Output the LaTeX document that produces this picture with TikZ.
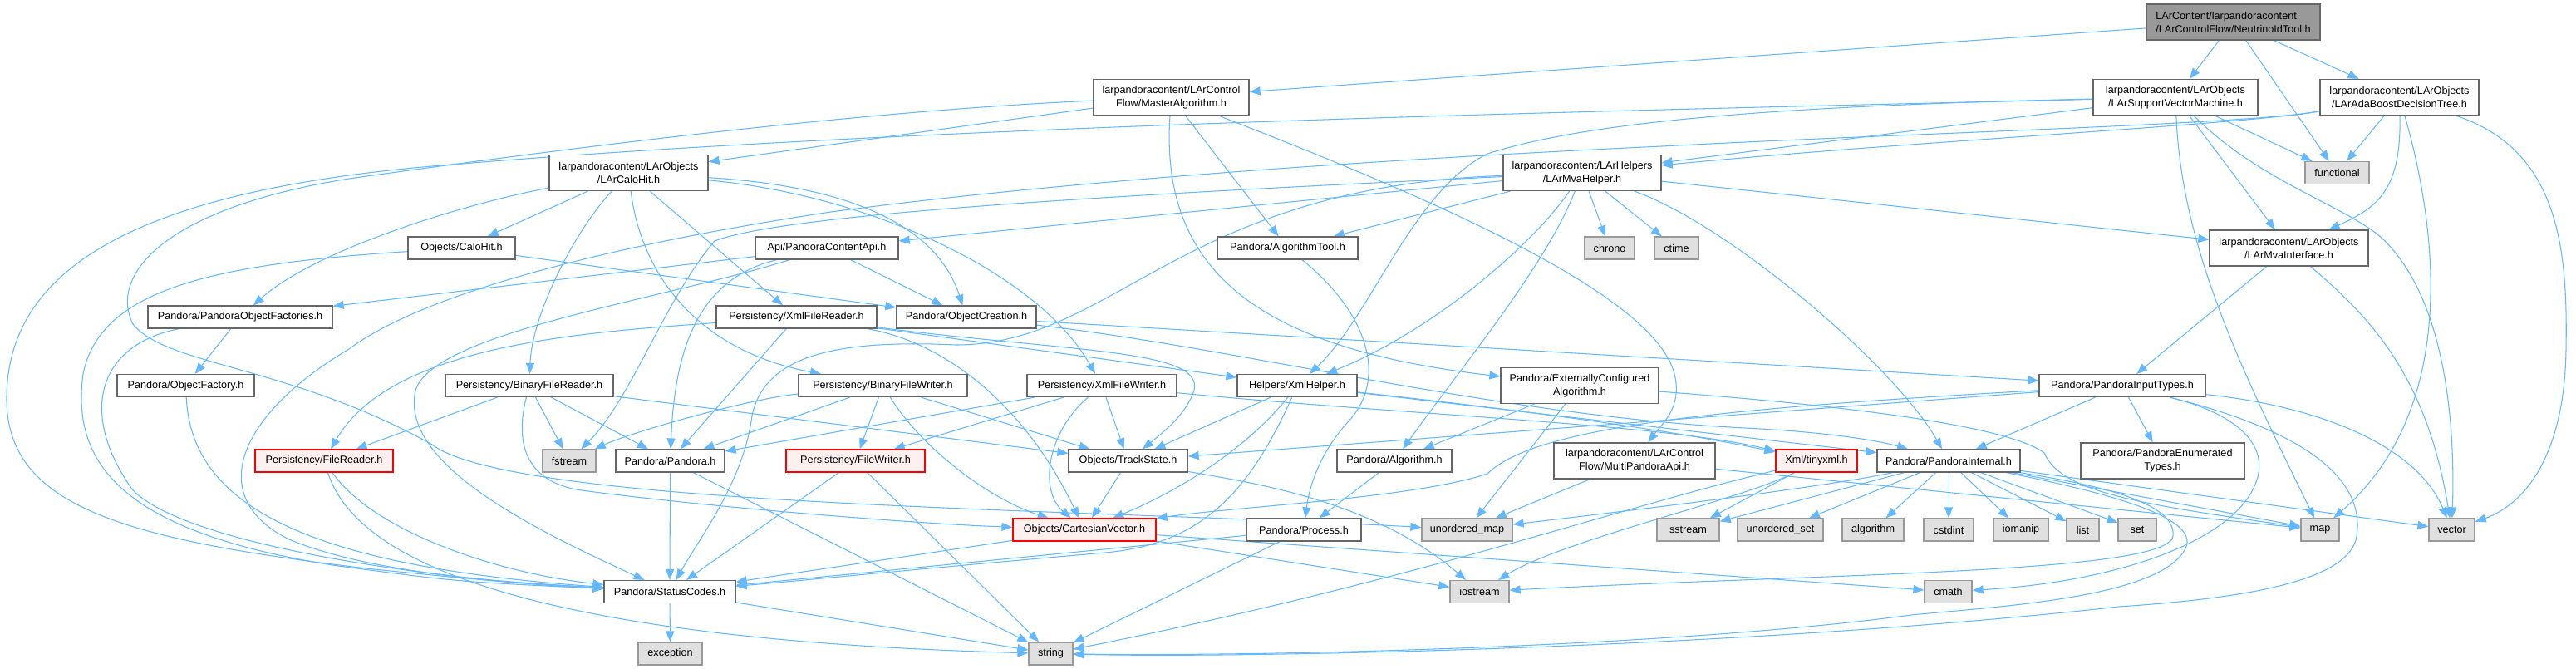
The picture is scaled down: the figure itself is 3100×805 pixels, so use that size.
\documentclass[tikz,border=0pt]{standalone}
\usepackage{fontspec}
\setmainfont{Liberation Sans}
\usetikzlibrary{arrows.meta,backgrounds}
\definecolor{wire}{HTML}{63B8FF}
\definecolor{frame}{HTML}{666666}
\definecolor{sysframe}{HTML}{999999}
\definecolor{sysfill}{HTML}{E0E0E0}
\definecolor{badframe}{HTML}{FF0000}
\definecolor{badfill}{HTML}{FFF0F0}
\definecolor{rootfill}{HTML}{999999}

\begin{document}
\begin{tikzpicture}[
  x=0.2mm, y=-0.2mm,
  font=\fontsize{7.2}{9.1}\selectfont,
  >={Triangle[length=2.6mm,width=2mm]},
  hdr/.style={draw=frame, fill=white, line width=0.7pt, inner sep=0pt,
              minimum height=5.4mm, align=center},
  tall/.style={minimum height=8.6mm},
  syshdr/.style={hdr, draw=sysframe, fill=sysfill},
  badhdr/.style={hdr, draw=badframe, fill=badfill},
  roothdr/.style={hdr, tall, fill=rootfill, align=left},
  inc/.style={->, draw=wire, line width=0.6pt},
]
\useasboundingbox (0,0) rectangle (3100,805);

\node[roothdr, minimum width=41.8mm] (root) at (2687.5,26.5)
  {LArContent/larpandoracontent\\/LArControlFlow/NeutrinoIdTool.h};

\node[hdr, tall, minimum width=37.4mm] (master) at (1409.5,117)
  {larpandoracontent/LArControl\\Flow/MasterAlgorithm.h};
\node[hdr, tall, minimum width=39.6mm] (svm) at (2618,117)
  {larpandoracontent/LArObjects\\/LArSupportVectorMachine.h};
\node[hdr, tall, minimum width=38.2mm] (ada) at (2887.5,117)
  {larpandoracontent/LArObjects\\/LArAdaBoostDecisionTree.h};

\node[hdr, tall, minimum width=38.2mm] (calohitlar) at (756.5,208)
  {larpandoracontent/LArObjects\\/LArCaloHit.h};
\node[hdr, tall, minimum width=38mm] (mvahelper) at (1904,208)
  {larpandoracontent/LArHelpers\\/LArMvaHelper.h};
\node[syshdr, minimum width=15.4mm] (functional) at (2812.5,208) {functional};

\node[hdr, minimum width=25.8mm] (calohit) at (555.5,298.5) {Objects/CaloHit.h};
\node[hdr, minimum width=34.4mm] (contentapi) at (995,298.5) {Api/PandoraContentApi.h};
\node[hdr, minimum width=33.8mm] (algtool) at (1549.5,298.5) {Pandora/AlgorithmTool.h};
\node[syshdr, minimum width=12mm] (chrono) at (1937,298.5) {chrono};
\node[syshdr, minimum width=10.6mm] (ctime) at (2017.5,298.5) {ctime};
\node[hdr, tall, minimum width=38.2mm] (mvaiface) at (2754.5,298.5)
  {larpandoracontent/LArObjects\\/LArMvaInterface.h};

\node[hdr, minimum width=44.4mm] (objfactories) at (289,381.5) {Pandora/PandoraObjectFactories.h};
\node[hdr, minimum width=38.6mm] (xmlreader) at (958.5,381.5) {Persistency/XmlFileReader.h};
\node[hdr, minimum width=33.6mm] (objcreation) at (1163,381.5) {Pandora/ObjectCreation.h};

\node[hdr, minimum width=33mm] (objfactory) at (223.5,464) {Pandora/ObjectFactory.h};
\node[hdr, minimum width=40.4mm] (binreader) at (637,464) {Persistency/BinaryFileReader.h};
\node[hdr, minimum width=40.6mm] (binwriter) at (1062.5,464) {Persistency/BinaryFileWriter.h};
\node[hdr, minimum width=36mm] (xmlwriter) at (1326,464) {Persistency/XmlFileWriter.h};
\node[hdr, minimum width=28.8mm] (xmlhelper) at (1561,464) {Helpers/XmlHelper.h};
\node[hdr, tall, minimum width=38mm] (extalg) at (1901,464)
  {Pandora/ExternallyConfigured\\Algorithm.h};
\node[hdr, minimum width=40mm] (inputtypes) at (2554,464) {Pandora/PandoraInputTypes.h};

\node[badhdr, minimum width=33.2mm] (filereader) at (390,554.5) {Persistency/FileReader.h};
\node[syshdr, minimum width=12.8mm] (fstream) at (685,554.5) {fstream};
\node[hdr, minimum width=26.2mm] (pandora) at (806.5,554.5) {Pandora/Pandora.h};
\node[badhdr, minimum width=33.4mm] (filewriter) at (1029.5,554.5) {Persistency/FileWriter.h};
\node[hdr, minimum width=28.6mm] (trackstate) at (1357.5,554.5) {Objects/TrackState.h};
\node[hdr, minimum width=27.6mm] (algorithm) at (1678,554.5) {Pandora/Algorithm.h};
\node[hdr, tall, minimum width=38.8mm] (multiapi) at (1967,554.5)
  {larpandoracontent/LArControl\\Flow/MultiPandoraApi.h};
\node[badhdr, minimum width=19.6mm] (tinyxml) at (2186,554.5) {Xml/tinyxml.h};
\node[hdr, minimum width=34.4mm] (internal) at (2345,554.5) {Pandora/PandoraInternal.h};
\node[hdr, tall, minimum width=39.4mm] (enumtypes) at (2602.5,554.5)
  {Pandora/PandoraEnumerated\\Types.h};

\node[badhdr, minimum width=34.4mm] (cartesian) at (1305,637.5) {Objects/CartesianVector.h};
\node[hdr, minimum width=27.6mm] (process) at (1569,637.5) {Pandora/Process.h};
\node[syshdr, minimum width=21.8mm] (umap) at (1765.5,637.5) {unordered\_map};
\node[syshdr, minimum width=15mm] (sstream) at (2031.5,637.5) {sstream};
\node[syshdr, minimum width=20.6mm] (uset) at (2142.5,637.5) {unordered\_set};
\node[syshdr, minimum width=14.8mm] (algorithmstd) at (2254,637.5) {algorithm};
\node[syshdr, minimum width=12mm] (cstdint) at (2345,637.5) {cstdint};
\node[syshdr, minimum width=13.2mm] (iomanip) at (2432,637.5) {iomanip};
\node[syshdr, minimum width=7.8mm] (list) at (2506.5,637.5) {list};
\node[syshdr, minimum width=9.2mm] (set) at (2572,637.5) {set};
\node[syshdr, minimum width=9.2mm] (map) at (2792,637.5) {map};
\node[syshdr, minimum width=11mm] (vector) at (2950.5,637.5) {vector};

\node[hdr, minimum width=31.6mm] (status) at (806,712) {Pandora/StatusCodes.h};
\node[syshdr, minimum width=14.2mm] (iostream) at (1780.5,712) {iostream};
\node[syshdr, minimum width=11.4mm] (cmath) at (2344.5,712) {cmath};

\node[syshdr, minimum width=15.4mm] (exception) at (806.5,786.5) {exception};
\node[syshdr, minimum width=10.6mm] (string) at (1264.5,786.5) {string};

\begin{scope}[on background layer]
\fill[white] (0,0) rectangle (3100,805);

\draw[inc] (root) -- (master);
\draw[inc] (root) -- (svm);
\draw[inc] (root) -- (functional);
\draw[inc] (root) -- (ada);

\draw[inc] (master) -- (calohitlar);
\draw[inc] (master) -- (algtool);
\draw[inc] (master) .. controls (1395,330) and (1520,420) .. (extalg);
\draw[inc] (master) .. controls (1700,230) and (1990,350) .. (2015,450)
  .. controls (2025,490) and (2000,510) .. (multiapi);
\draw[inc] (master) .. controls (1000,135) and (600,190) .. (420,215)
  .. controls (200,250) and (130,330) .. (160,390)
  .. controls (200,440) and (350,440) .. (520,535)
  .. controls (620,610) and (1300,612) .. (umap);

\draw[inc] (svm) .. controls (2000,132) and (1100,150) .. (520,200)
  .. controls (150,232) and (8,330) .. (8,480)
  .. controls (8,610) and (150,650) .. (450,685)
  .. controls (600,700) .. (status);
\draw[inc] (svm) .. controls (2100,128) and (1900,150) .. (1790,185)
  .. controls (1700,230) and (1650,380) .. (xmlhelper);
\draw[inc] (svm) -- (mvahelper);
\draw[inc] (svm) -- (mvaiface);
\draw[inc] (svm) -- (functional);
\draw[inc] (svm) .. controls (2625,300) and (2700,450) .. (map);
\draw[inc] (svm) .. controls (2720,220) and (2830,250) .. (2870,290)
  .. controls (2940,360) and (2955,500) .. (vector);

\draw[inc] (ada) .. controls (2700,150) and (2300,170) .. (mvahelper);
\draw[inc] (ada) .. controls (2700,150) and (2300,160) .. (2000,176)
  .. controls (1700,190) and (1300,215) .. (1000,255)
  .. controls (700,300) and (500,360) .. (420,420)
  .. controls (285,500) and (245,600) .. (350,650)
  .. controls (450,690) and (600,700) .. (status);
\draw[inc] (ada) -- (functional);
\draw[inc] (ada) .. controls (2890,230) and (2860,250) .. (mvaiface);
\draw[inc] (ada) .. controls (2940,300) and (2950,500) .. (map);
\draw[inc] (ada) .. controls (3080,180) and (3090,300) .. (3088,420)
  .. controls (3086,560) and (3030,610) .. (vector);

\draw[inc] (calohitlar) -- (calohit);
\draw[inc] (calohitlar) .. controls (560,245) and (380,300) .. (objfactories);
\draw[inc] (calohitlar) .. controls (1040,225) and (1130,280) .. (objcreation);
\draw[inc] (calohitlar) .. controls (690,280) and (640,380) .. (binreader);
\draw[inc] (calohitlar) .. controls (770,320) and (830,420) .. (binwriter);
\draw[inc] (calohitlar) -- (xmlreader);
\draw[inc] (calohitlar) .. controls (1050,235) and (1250,330) .. (xmlwriter);

\draw[inc] (calohit) -- (objcreation);
\draw[inc] (calohit) .. controls (250,318) and (120,350) .. (100,450)
  .. controls (85,560) and (150,640) .. (400,680)
  .. controls (550,700) .. (status);

\draw[inc] (objfactories) -- (objfactory);
\draw[inc] (objfactories) .. controls (115,415) and (95,500) .. (160,590)
  .. controls (230,660) and (550,700) .. (status);
\draw[inc] (objfactory) .. controls (230,600) and (350,680) .. (status);

\draw[inc] (contentapi) -- (objcreation);
\draw[inc] (contentapi) -- (objfactories);
\draw[inc] (contentapi) .. controls (840,335) and (812,420) .. (pandora);
\draw[inc] (contentapi) .. controls (800,360) and (520,400) .. (500,470)
  .. controls (480,560) and (650,640) .. (status);

\draw[inc] (algtool) .. controls (1650,380) and (1670,460) .. (1620,510)
  .. controls (1585,550) and (1575,590) .. (process);

\draw[inc] (mvahelper) -- (contentapi);
\draw[inc] (mvahelper) -- (algtool);
\draw[inc] (mvahelper) -- (chrono);
\draw[inc] (mvahelper) -- (ctime);
\draw[inc] (mvahelper) -- (mvaiface);
\draw[inc] (mvahelper) .. controls (1840,300) and (1720,400) .. (xmlhelper);
\draw[inc] (mvahelper) .. controls (1860,320) and (1760,440) .. (algorithm);
\draw[inc] (mvahelper) .. controls (2080,270) and (2280,440) .. (internal);
\draw[inc] (mvahelper) .. controls (1400,232) and (950,255) .. (860,290)
  .. controls (800,360) and (760,480) .. (fstream);
\draw[inc] (mvahelper) .. controls (1420,225) and (1340,415) .. (1150,415)
  .. controls (1000,408) and (920,430) .. (905,500)
  .. controls (895,580) and (840,650) .. (status);

\draw[inc] (mvaiface) -- (inputtypes);
\draw[inc] (mvaiface) .. controls (2850,380) and (2920,450) .. (vector);

\draw[inc] (objcreation) -- (inputtypes);
\draw[inc] (objcreation) .. controls (1500,420) and (1800,500) .. (2100,515)
  .. controls (2200,520) and (2260,530) .. (internal);

\draw[inc] (xmlreader) .. controls (700,400) and (470,415) .. (filereader);
\draw[inc] (xmlreader) -- (pandora);
\draw[inc] (xmlreader) -- (xmlhelper);
\draw[inc] (xmlreader) .. controls (1300,425) and (1460,420) .. (1435,475)
  .. controls (1425,500) and (1400,520) .. (trackstate);
\draw[inc] (xmlreader) .. controls (1130,410) and (1230,480) .. (cartesian);

\draw[inc] (binreader) -- (filereader);
\draw[inc] (binreader) -- (fstream);
\draw[inc] (binreader) -- (pandora);
\draw[inc] (binreader) -- (trackstate);
\draw[inc] (binreader) .. controls (620,530) and (630,580) .. (700,590)
  .. controls (850,610) and (1100,630) .. (cartesian);

\draw[inc] (binwriter) .. controls (900,480) and (760,520) .. (fstream);
\draw[inc] (binwriter) -- (pandora);
\draw[inc] (binwriter) -- (filewriter);
\draw[inc] (binwriter) -- (trackstate);
\draw[inc] (binwriter) .. controls (1110,540) and (1190,600) .. (cartesian);

\draw[inc] (xmlwriter) -- (pandora);
\draw[inc] (xmlwriter) -- (filewriter);
\draw[inc] (xmlwriter) -- (trackstate);
\draw[inc] (xmlwriter) .. controls (1260,520) and (1250,590) .. (cartesian);
\draw[inc] (xmlwriter) .. controls (1700,500) and (2000,510) .. (tinyxml);

\draw[inc] (xmlhelper) -- (trackstate);
\draw[inc] (xmlhelper) .. controls (1500,540) and (1420,590) .. (cartesian);
\draw[inc] (xmlhelper) .. controls (1500,600) and (1440,655) .. (1330,665)
  .. controls (1100,685) and (950,700) .. (status);
\draw[inc] (xmlhelper) .. controls (1800,490) and (2000,515) .. (tinyxml);
\draw[inc] (xmlhelper) -- (internal);

\draw[inc] (extalg) -- (algorithm);
\draw[inc] (extalg) -- (umap);
\draw[inc] (extalg) .. controls (2250,490) and (2420,515) .. (2460,545)
  .. controls (2480,590) and (2560,605) .. (map);

\draw[inc] (multiapi) -- (umap);
\draw[inc] (multiapi) -- (map);

\draw[inc] (tinyxml) -- (sstream);
\draw[inc] (tinyxml) .. controls (2100,600) and (1880,650) .. (iostream);
\draw[inc] (tinyxml) .. controls (1950,610) and (1700,700) .. (string);

\draw[inc] (internal) -- (sstream);
\draw[inc] (internal) -- (uset);
\draw[inc] (internal) -- (algorithmstd);
\draw[inc] (internal) -- (cstdint);
\draw[inc] (internal) -- (iomanip);
\draw[inc] (internal) -- (list);
\draw[inc] (internal) -- (set);
\draw[inc] (internal) -- (map);
\draw[inc] (internal) -- (vector);
\draw[inc] (internal) .. controls (2200,585) and (2000,610) .. (umap);
\draw[inc] (internal) .. controls (2500,580) and (2620,600) .. (2615,645)
  .. controls (2610,690) and (2200,690) .. (iostream);
\draw[inc] (internal) .. controls (2520,590) and (2650,620) .. (2630,660)
  .. controls (2600,720) and (2400,730) .. (2300,740)
  .. controls (2000,780) and (1500,790) .. (string);

\draw[inc] (inputtypes) -- (trackstate);
\draw[inc] (inputtypes) .. controls (2100,490) and (1850,510) .. (1790,570)
  .. controls (1700,600) and (1480,610) .. (cartesian);
\draw[inc] (inputtypes) -- (internal);
\draw[inc] (inputtypes) -- (enumtypes);
\draw[inc] (inputtypes) .. controls (2800,490) and (2910,540) .. (vector);
\draw[inc] (inputtypes) .. controls (2780,520) and (2850,580) .. (2835,650)
  .. controls (2820,700) and (2700,720) .. (2550,730)
  .. controls (2100,780) and (1500,792) .. (string);
\draw[inc] (inputtypes) .. controls (2700,500) and (2730,540) .. (2715,580)
  .. controls (2690,650) and (2550,700) .. (cmath);

\draw[inc] (trackstate) -- (cartesian);
\draw[inc] (trackstate) .. controls (1500,580) and (1650,600) .. (iostream);

\draw[inc] (cartesian) -- (status);
\draw[inc] (cartesian) -- (iostream);
\draw[inc] (cartesian) -- (cmath);

\draw[inc] (algorithm) -- (process);
\draw[inc] (process) -- (status);
\draw[inc] (process) -- (string);
\draw[inc] (pandora) -- (status);
\draw[inc] (pandora) -- (string);
\draw[inc] (filereader) .. controls (450,640) and (600,690) .. (status);
\draw[inc] (filereader) .. controls (430,680) and (650,770) .. (string);
\draw[inc] (filewriter) -- (status);
\draw[inc] (filewriter) -- (string);
\draw[inc] (status) -- (exception);
\draw[inc] (status) -- (string);
\end{scope}
\end{tikzpicture}
\end{document}
